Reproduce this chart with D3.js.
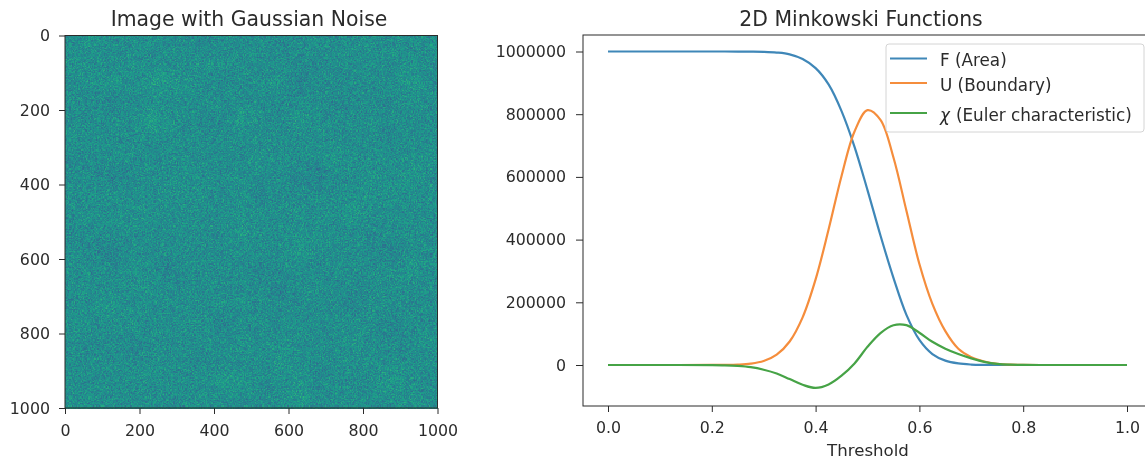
<!DOCTYPE html>
<html>
<head>
<meta charset="utf-8">
<script src="https://cdnjs.cloudflare.com/ajax/libs/d3/7.8.5/d3.min.js"></script>
<style>
	html, body { margin: 0; padding: 0; background: #fff; overflow: hidden; }
	#plot { position: relative; width: 1145px; height: 459px; }
	#plot canvas, #plot svg { position: absolute; left: 0; top: 0; }
	#plot canvas { filter: blur(0.4px); }
	text { font-family: "DejaVu Sans", sans-serif; fill: #2b2b2b; }
</style>
</head>
<body>
<div id="plot"></div>
<script>
// right panel
var thresholds = [0, 0.1, 0.2, 0.225, 0.25, 0.275, 0.3, 0.325, 0.35, 0.375, 0.4, 0.425, 0.45, 0.475, 0.5, 0.525, 0.55, 0.575, 0.6, 0.625, 0.65, 0.675, 0.7, 0.725, 0.75, 0.775, 0.8, 0.85, 0.9, 1];
var areaValues = [1000000, 1000000, 1000000, 1000000, 999900, 999700, 999000, 996700, 991000, 976000, 947000, 895000, 810000, 696000, 558000, 413000, 278000, 160000, 80000, 35000, 14000, 5000, 1500, 400, 0, 0, 0, 0, 0, 0];
var boundaryValues = [0, 0, 100, 340, 1300, 4300, 12600, 33000, 75000, 152000, 273000, 432000, 603000, 745000, 813000, 782000, 662000, 492000, 322000, 195000, 108000, 52000, 25000, 11000, 4000, 1000, 200, 0, 0, 0];
var eulerValues = [0, 0, -300, -1000, -3000, -7000, -15000, -27000, -45000, -63000, -73000, -62000, -34000, 5000, 58000, 102000, 127000, 127000, 103000, 74000, 52000, 35000, 21000, 10000, 3500, 1000, 300, 0, 0, 0];
var legendLabels = ["F (Area)", "U (Boundary)", "(Euler characteristic)"];
var seriesColors = ["#3f87b8", "#f58d3c", "#46a346"];
var lineTicks = [0, 0.2, 0.4, 0.6, 0.8, 1];
var valueTicks = [0, 200000, 400000, 600000, 800000, 1000000];

// left panel: light/dark patches judged by eye, 20 x 20 blocks over the image
var imageTicks = [0, 200, 400, 600, 800, 1000];
var patches = [
	"56555554555455555555",
	"65565556555544555565",
	"56757765455635455575",
	"55355555555455445465",
	"55558654475475555555",
	"65555555555555555455",
	"45565555556555755556",
	"54345565555543556575",
	"55555665564555556655",
	"56557555565565575555",
	"45555555575556555555",
	"54355555555575554355",
	"55565355553555555575",
	"55556555555346545555",
	"56755555555555536555",
	"65565556355555565355",
	"54535555565555565556",
	"55555554555755555555",
	"55556555774574555855",
	"65555556555575555565"
];
// grain of the noise, hand typed since single pixels can't be read
var grainA = [
	"46357248531946273584629174538",
	"73528461937254816375294683147",
	"15846397265148539726418357962",
	"68274519836472591843675129483",
	"39561827453981624759382416957",
	"52749136875243968125746398251",
	"84163592471865237946158274639",
	"27935684126379451862937541826",
	"61482753964128376594213869475",
	"95374218653749182637459128364",
	"48216975384562917348265971538",
	"73659142867391546287134658927",
	"16947385241857369415978236541",
	"52381769453624198753462819376",
	"89425137698243756129385647912",
	"34768951247586914362751489263",
	"67152483976135428796143925687",
	"21594768315972684135867352914",
	"95836214759428137569241786345",
	"48173965282691745386952417638",
	"73426518934857261948376152849",
	"16985374621349587216439865172",
	"52647189365781342695187423596"
];
var grainB = [
	"35746258463957264",
	"62938415726384915",
	"47152693584127638",
	"83465172946573421",
	"14729836251849576",
	"56381947635216984",
	"29674153482967315",
	"73518264917354826",
	"48295716364182597",
	"61843529775926143",
	"95267381426437859",
	"32754168953781264",
	"76419825367145938",
	"14582973641829576",
	"58936247185463712",
	"23671584926715849",
	"87345169432598361",
	"41928736574163285",
	"65173482918346527"
];
var imageStep = 3;

var width = 1145, height = 459;
var imageBox = { left: 65, right: 437.5, top: 35.5, bottom: 408 };
var lineBox = { left: 583, right: 1153, top: 35, bottom: 406 };

var plot = d3.select("#plot");
var canvas = plot.append("canvas")
	.attr("width", width)
	.attr("height", height);
var svg = plot.append("svg")
	.attr("width", width)
	.attr("height", height);

// image with gaussian noise
var imageX = d3.scaleLinear().domain([0, 1000]).range([imageBox.left, imageBox.right]);
var imageY = d3.scaleLinear().domain([0, 1000]).range([imageBox.top, imageBox.bottom]);
var viridis = d3.scaleSequential(d3.interpolateViridis).domain([0, 1]);

// patch level at a data position, blended between neighbouring blocks
function patchAt(row, col){
	var fr = Math.max(0, Math.min(18.999, row / 50 - 0.5)), fc = Math.max(0, Math.min(18.999, col / 50 - 0.5));
	var r0 = Math.floor(fr), c0 = Math.floor(fc);
	var top = d3.interpolateNumber(+patches[r0][c0], +patches[r0][c0 + 1])(fc - c0);
	var bottom = d3.interpolateNumber(+patches[r0 + 1][c0], +patches[r0 + 1][c0 + 1])(fc - c0);
	return d3.interpolateNumber(top, bottom)(fr - r0);
}

var ctx = canvas.node().getContext("2d");
d3.range(0, 1000, imageStep).forEach(function(row, r){
	d3.range(0, 1000, imageStep).forEach(function(col, c){
		// squared offsets so the typed grains don't repeat as a lattice
		var a = +grainA[(r + c * c) % grainA.length][(c + r * r) % grainA[0].length];
		var b = +grainB[(r * r + c) % grainB.length][(c * c + r) % grainB[0].length];
		var x0 = Math.round(imageX(col)), x1 = Math.round(imageX(col + imageStep));
		var y0 = Math.round(imageY(row)), y1 = Math.round(imageY(row + imageStep));
		ctx.fillStyle = viridis(0.49 + (patchAt(row, col) - 5) * 0.018 + (a - 5) * 0.017 + (b - 5) * 0.017);
		ctx.fillRect(x0, y0, x1 - x0, y1 - y0);
	});
});

var imageG = svg.append("g").attr("class", "image-axes");
imageG.append("g")
	.attr("transform", "translate(0," + imageBox.bottom + ")")
	.call(d3.axisBottom(imageX).tickValues(imageTicks).tickFormat(d3.format("d")).tickSize(6).tickPadding(11));
imageG.append("g")
	.attr("transform", "translate(" + imageBox.left + ",0)")
	.call(d3.axisLeft(imageY).tickValues(imageTicks).tickFormat(d3.format("d")).tickSize(6).tickPadding(9));
imageG.selectAll(".domain").remove();
imageG.append("rect")
	.attr("x", imageBox.left)
	.attr("y", imageBox.top)
	.attr("width", imageBox.right - imageBox.left)
	.attr("height", imageBox.bottom - imageBox.top)
	.style("fill", "none")
	.style("stroke", "#2b2b2b");
imageG.append("text")
	.attr("x", 249)
	.attr("y", 26)
	.attr("text-anchor", "middle")
	.style("font-size", "20.4px")
	.text("Image with Gaussian Noise");

// minkowski functions
var xScale = d3.scaleLinear().domain([0, 1]).range([608, 1127]);
var yScale = d3.scaleLinear().domain([0, 1000000]).range([365, 51.5]);

var lineG = svg.append("g").attr("class", "line-axes");
lineG.append("g")
	.attr("transform", "translate(0," + lineBox.bottom + ")")
	.call(d3.axisBottom(xScale).tickValues(lineTicks).tickFormat(d3.format(".1f")).tickSize(6).tickPadding(10));
lineG.append("g")
	.attr("transform", "translate(" + lineBox.left + ",0)")
	.call(d3.axisLeft(yScale).tickValues(valueTicks).tickFormat(d3.format("d")).tickSize(7).tickPadding(10));
lineG.selectAll(".domain").remove();
lineG.append("rect")
	.attr("x", lineBox.left)
	.attr("y", lineBox.top)
	.attr("width", lineBox.right - lineBox.left)
	.attr("height", lineBox.bottom - lineBox.top)
	.style("fill", "none")
	.style("stroke", "#2b2b2b");

var drawPath = d3.line()
	.x(function(d, i){ return xScale(thresholds[i]); })
	.y(function(d){ return yScale(d); })
	.curve(d3.curveCatmullRom.alpha(0.5));

lineG.selectAll("path.series")
	.data([areaValues, boundaryValues, eulerValues])
	.enter().append("path")
	.attr("class", "series")
	.attr("d", drawPath)
	.style("fill", "none")
	.style("stroke", function(d, i){ return seriesColors[i]; })
	.style("stroke-width", 2.2);

lineG.append("text")
	.attr("x", 861)
	.attr("y", 26)
	.attr("text-anchor", "middle")
	.style("font-size", "20.4px")
	.text("2D Minkowski Functions");
lineG.append("text")
	.attr("x", 868)
	.attr("y", 456)
	.attr("text-anchor", "middle")
	.style("font-size", "16.6px")
	.text("Threshold");

// legend
var legendRows = [58.5, 83, 113];
var legend = lineG.append("g").attr("class", "legend");
legend.append("rect")
	.attr("x", 886)
	.attr("y", 44)
	.attr("width", 258)
	.attr("height", 88)
	.attr("rx", 3)
	.style("fill", "#fff")
	.style("fill-opacity", 0.8)
	.style("stroke", "#d4d4d4");
legend.selectAll("line")
	.data(legendLabels)
	.enter().append("line")
	.attr("x1", 890)
	.attr("x2", 927)
	.attr("y1", function(d, i){ return legendRows[i]; })
	.attr("y2", function(d, i){ return legendRows[i]; })
	.style("stroke", function(d, i){ return seriesColors[i]; })
	.style("stroke-width", 2.2);
var legendText = legend.selectAll("text")
	.data(legendLabels)
	.enter().append("text")
	.attr("x", 940)
	.attr("y", function(d, i){ return legendRows[i] + 7.5; })
	.style("font-size", "16.8px");
legendText.each(function(d, i){
	var t = d3.select(this);
	if(i == 2){
		t.append("tspan").style("font-style", "italic").text("\u03c7");
		t.append("tspan").attr("dx", 6).text(d);
	}else{
		t.text(d);
	}
});

svg.selectAll(".tick text").style("font-size", "15.8px").style("font-family", "\"DejaVu Sans\", sans-serif").style("fill", "#2b2b2b");
svg.selectAll(".tick line").style("stroke", "#2b2b2b");
</script>
</body>
</html>
